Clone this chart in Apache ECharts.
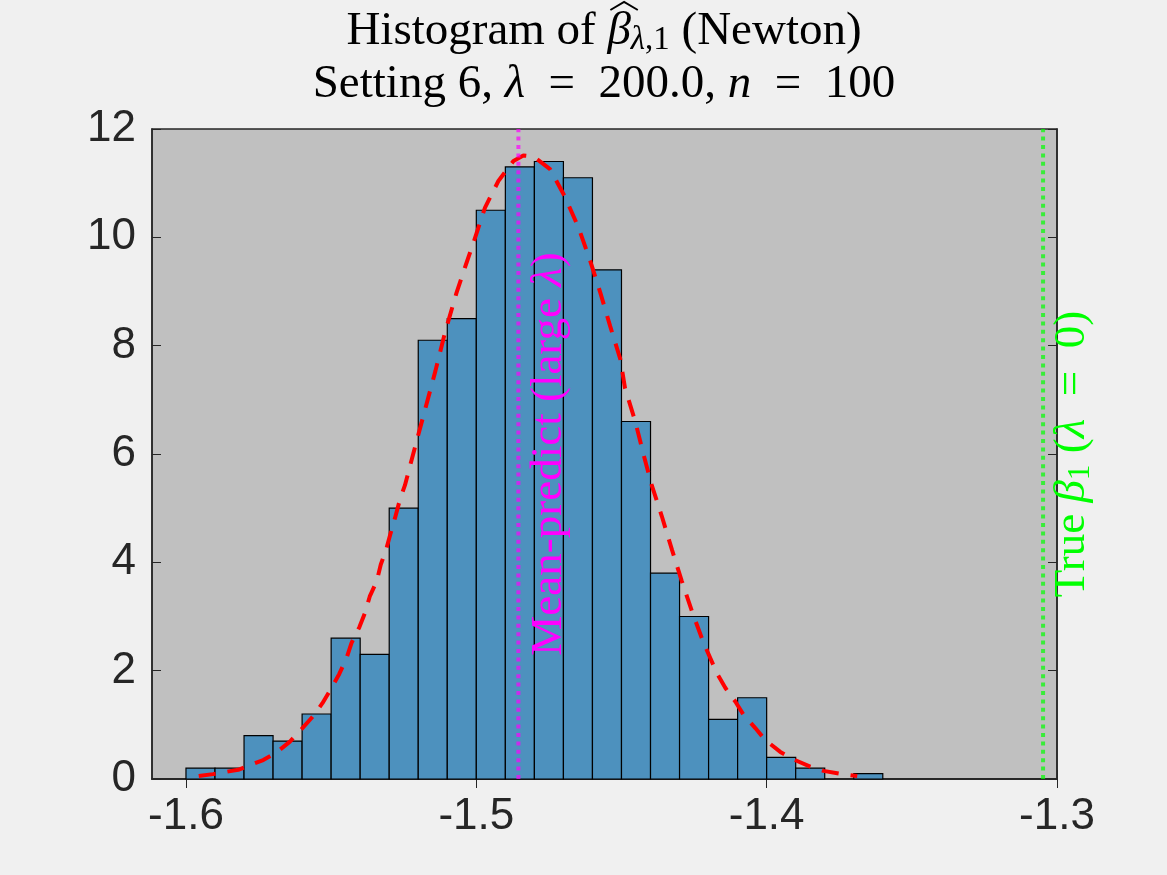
<!DOCTYPE html>
<html>
<head>
<meta charset="utf-8">
<script src="https://cdn.jsdelivr.net/npm/echarts@6/dist/echarts.min.js"></script>
<style>
  html, body { margin: 0; padding: 0; background: #f0f0f0; }
  #chart { width: 1167px; height: 875px; }
</style>
</head>
<body>
<div id="chart"></div>
<script>
// 直方图的箱边界和高度
let binEdges = [-1.60, -1.59, -1.58, -1.57, -1.56, -1.55, -1.54, -1.53, -1.52, -1.51, -1.50,
  -1.49, -1.48, -1.47, -1.46, -1.45, -1.44, -1.43, -1.42, -1.41, -1.40, -1.39, -1.38, -1.37, -1.36];
let binHeights = [0.2, 0.2, 0.8, 0.7, 1.2, 2.6, 2.3, 5.0, 8.1, 8.5, 10.5, 11.3,
  11.4, 11.1, 9.4, 6.6, 3.8, 3.0, 1.1, 1.5, 0.4, 0.2, 0, 0.1];

// 红色虚线（拟合密度），从图上读出的点
let curveX = [-1.5956, -1.5907, -1.5820, -1.5792, -1.5734, -1.5688, -1.5642, -1.5602, -1.5562, -1.5530,
  -1.5499, -1.5472, -1.5447, -1.5430, -1.5403, -1.5384, -1.5367, -1.5343, -1.5329, -1.5311,
  -1.5295, -1.5280, -1.5263, -1.5246, -1.5210, -1.5175, -1.5141, -1.5108, -1.5068, -1.5033,
  -1.5010, -1.4970, -1.4924, -1.4872, -1.4838, -1.4803, -1.4746, -1.4694, -1.4648, -1.4608,
  -1.4573, -1.4539, -1.4504, -1.4488, -1.4453, -1.4424, -1.4395, -1.4361, -1.4326, -1.4292,
  -1.4257, -1.4217, -1.4171, -1.4142, -1.4108, -1.4079, -1.4039, -1.4005, -1.3953, -1.3907,
  -1.3850, -1.3804, -1.3741, -1.3688];
let curveY = [0.055, 0.09, 0.17, 0.23, 0.35, 0.49, 0.69, 0.92, 1.16, 1.40,
  1.68, 1.94, 2.23, 2.51, 2.80, 3.06, 3.37, 3.65, 3.96, 4.23,
  4.54, 4.82, 5.16, 5.42, 6.15, 6.85, 7.53, 8.24, 8.98, 9.54,
  9.90, 10.55, 11.04, 11.41, 11.51, 11.49, 11.26, 10.74, 10.18, 9.57,
  8.98, 8.36, 7.75, 7.22, 6.61, 5.99, 5.41, 4.85, 4.23, 3.65,
  3.09, 2.51, 1.95, 1.68, 1.43, 1.18, 0.94, 0.72, 0.50, 0.36,
  0.23, 0.15, 0.09, 0.055];

// 两条竖线的位置
let meanPredictX = -1.4855;
let trueBetaX = -1.3048;

// 坐标轴刻度
let xTicks = [-1.6, -1.5, -1.4, -1.3];
let xRange = [-1.6117, -1.3];
let yRange = [0, 12];

let serif = 'Liberation Serif';
let sans = 'Liberation Sans';
let axisColor = '#262626';
let titleSize = 47;
let subSize = Math.round(titleSize * 0.7);
let eqSp = '\u2002=\u2002';

let chart = echarts.init(document.getElementById('chart'));

let histData = binHeights.map((h, i) => [binEdges[i], binEdges[i + 1], h]);
let curveData = curveX.map((x, i) => [x, curveY[i]]);

// 富文本样式（graphic 里用 fill）
const labelRich = (size, color) => ({
  t: { fontFamily: serif, fontSize: size, fill: color, lineHeight: 50, verticalAlign: 'middle' },
  i: { fontFamily: serif, fontSize: size, fontStyle: 'italic', fill: color, lineHeight: 50, verticalAlign: 'middle' },
  si: { fontFamily: serif, fontSize: size * 0.7, fontStyle: 'italic', fill: color, lineHeight: 26, verticalAlign: 'bottom' },
  s: { fontFamily: serif, fontSize: size * 0.7, fill: color, lineHeight: 26, verticalAlign: 'bottom' }
});

// 量一下标题文字宽度，用来放 β 上的帽子
let measureCtx = document.createElement('canvas').getContext('2d');
const textWidth = (txt, font) => {
  measureCtx.font = font;
  return measureCtx.measureText(txt).width;
};

const axisBase = {
  type: 'value',
  axisLine: { show: true, lineStyle: { color: axisColor, width: 1.5 } },
  splitLine: { show: false }
};

let options = {
  backgroundColor: '#f0f0f0',
  animation: false,
  grid: {
    left: 152, right: 110, top: 129, bottom: 96,
    show: true,
    backgroundColor: '#c0c0c0',
    borderColor: axisColor,
    borderWidth: 1.5
  },
  xAxis: [
    {
      ...axisBase,
      position: 'bottom',
      min: xRange[0], max: xRange[1],
      axisTick: { inside: true, length: 9, customValues: xTicks, lineStyle: { color: axisColor } },
      axisLabel: {
        customValues: xTicks,
        margin: 16,
        color: axisColor,
        fontFamily: sans,
        fontSize: 44,
        formatter: v => v.toFixed(1)
      }
    },
    {
      ...axisBase,
      position: 'top',
      min: xRange[0], max: xRange[1],
      axisTick: { inside: true, length: 9, customValues: xTicks, lineStyle: { color: axisColor } },
      axisLabel: { show: false }
    }
  ],
  yAxis: [
    {
      ...axisBase,
      position: 'left',
      min: yRange[0], max: yRange[1], interval: 2,
      axisTick: { inside: true, length: 9, lineStyle: { color: axisColor } },
      axisLabel: { margin: 16, color: axisColor, fontFamily: sans, fontSize: 44 }
    },
    {
      ...axisBase,
      position: 'right',
      min: yRange[0], max: yRange[1], interval: 2,
      axisTick: { inside: true, length: 9, lineStyle: { color: axisColor } },
      axisLabel: { show: false }
    }
  ],
  series: [
    {
      // 直方图
      type: 'custom',
      xAxisIndex: 0,
      yAxisIndex: 0,
      data: histData,
      encode: { x: [0, 1], y: 2 },
      renderItem: (params, api) => {
        let h = api.value(2);
        if (h <= 0) return null;
        let p0 = api.coord([api.value(0), h]);
        let p1 = api.coord([api.value(1), 0]);
        return {
          type: 'rect',
          shape: { x: p0[0], y: p0[1], width: p1[0] - p0[0], height: p1[1] - p0[1] },
          style: { fill: '#4d91be', stroke: '#000000', lineWidth: 1.2 }
        };
      },
      z: 2
    },
    {
      // 拟合曲线
      type: 'line',
      data: curveData,
      symbol: 'none',
      lineStyle: { color: '#ff0000', width: 4, type: [17, 12] },
      z: 3
    },
    {
      type: 'line',
      data: [[meanPredictX, yRange[0]], [meanPredictX, yRange[1]]],
      symbol: 'none',
      lineStyle: { color: 'rgba(255, 0, 255, 0.7)', width: 4, type: [4, 4.4] },
      z: 4
    },
    {
      type: 'line',
      data: [[trueBetaX, yRange[0]], [trueBetaX, yRange[1]]],
      symbol: 'none',
      lineStyle: { color: 'rgba(0, 255, 0, 0.7)', width: 4, type: [4, 4.4] },
      z: 4
    }
  ]
};
chart.setOption(options);

// 标题和竖线旁的文字
let meanPx = chart.convertToPixel({ xAxisIndex: 0, yAxisIndex: 0 }, [meanPredictX, 6]);
let truePx = chart.convertToPixel({ xAxisIndex: 0, yAxisIndex: 0 }, [trueBetaX, 6]);

// β 帽子的位置
let titleCx = 604;
let fRoman = titleSize + 'px "' + serif + '"';
let fItalic = 'italic ' + titleSize + 'px "' + serif + '"';
let fSubIt = 'italic ' + subSize + 'px "' + serif + '"';
let fSub = subSize + 'px "' + serif + '"';
let wPre = textWidth('Histogram of ', fRoman);
let wBeta = textWidth('β', fItalic);
let wTotal = wPre + wBeta + textWidth('λ', fSubIt) + textWidth(',1', fSub) + textWidth(' (Newton)', fRoman);
let betaLeft = titleCx - wTotal / 2 + wPre;

chart.setOption({
  graphic: [
    {
      type: 'text', x: titleCx, y: 32, z: 10,
      style: {
        text: '{t|Histogram of }{i|β}{si|λ}{s|,1}{t| (Newton)}',
        rich: labelRich(titleSize, '#000000'),
        align: 'center', verticalAlign: 'middle'
      }
    },
    {
      type: 'polyline', z: 10,
      shape: { points: [[betaLeft + 3, 10], [betaLeft + wBeta / 2 + 5, 2], [betaLeft + wBeta + 7, 10]] },
      style: { stroke: '#000000', lineWidth: 2, fill: null }
    },
    {
      type: 'text', x: titleCx, y: 85, z: 10,
      style: {
        text: '{t|Setting 6, }{i|λ}{t|' + eqSp + '200.0, }{i|n}{t|' + eqSp + '100}',
        rich: labelRich(titleSize, '#000000'),
        align: 'center', verticalAlign: 'middle'
      }
    },
    {
      type: 'text', x: meanPx[0] + 31, y: meanPx[1], rotation: Math.PI / 2, z: 10,
      style: {
        text: '{t|Mean-predict (large }{i|λ}{t|)}',
        rich: labelRich(45, '#ff00ff'),
        align: 'center', verticalAlign: 'middle'
      }
    },
    {
      type: 'text', x: truePx[0] + 29, y: truePx[1], rotation: Math.PI / 2, z: 10,
      style: {
        text: '{t|True }{i|β}{s|1}{t| (}{i|λ}{t|' + eqSp + '0)}',
        rich: labelRich(45, '#00ff00'),
        align: 'center', verticalAlign: 'middle'
      }
    }
  ]
});
</script>
</body>
</html>
